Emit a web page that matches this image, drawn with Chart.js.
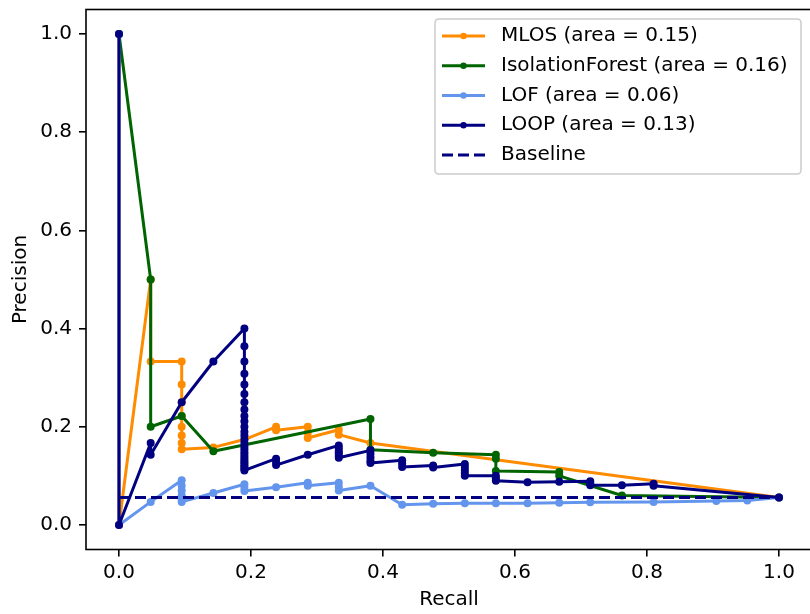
<!DOCTYPE html>
<html>
<head>
<meta charset="utf-8">
<title>Precision-Recall</title>
<script src="https://cdn.jsdelivr.net/npm/chart.js@4.4.0/dist/chart.umd.min.js"></script>
<style>
  html, body { margin: 0; padding: 0; background: #fff; overflow: hidden; }
  canvas { display: block; }
</style>
</head>
<body>
<canvas id="graficoPR" width="813" height="614"></canvas>
<script>
// Curvas precision-recall, valores
var mlosRecall = [0, 0, 0.048, 0.048, 0.095, 0.095, 0.095, 0.095, 0.095, 0.095, 0.095, 0.095,
  0.143, 0.19, 0.238, 0.238, 0.286, 0.286, 0.286, 0.333, 0.333, 0.381, 1.0];
var mlosPrecision = [1.0, 0.0, 0.5, 0.333, 0.333, 0.286, 0.25, 0.222, 0.2, 0.182, 0.167, 0.154,
  0.158, 0.174, 0.2, 0.193, 0.2, 0.188, 0.177, 0.194, 0.184, 0.167, 0.056];

var ifRecall = [0, 0.048, 0.048, 0.095, 0.143, 0.381, 0.381, 0.476, 0.571, 0.571, 0.571,
  0.667, 0.667, 0.762, 1.0];
var ifPrecision = [1.0, 0.5, 0.2, 0.222, 0.15, 0.216, 0.153, 0.147, 0.143, 0.135, 0.11,
  0.108, 0.1, 0.06, 0.056];

var lofRecall = [0, 0, 0.048, 0.095, 0.095, 0.095, 0.095, 0.095, 0.095, 0.143, 0.19, 0.19, 0.19,
  0.238, 0.286, 0.286, 0.333, 0.333, 0.333, 0.381, 0.429, 0.476, 0.524, 0.571, 0.619, 0.667,
  0.714, 0.81, 0.905, 0.952, 1.0];
var lofPrecision = [1.0, 0.0, 0.047, 0.091, 0.08, 0.07, 0.06, 0.052, 0.047, 0.065, 0.083, 0.076, 0.069,
  0.077, 0.086, 0.08, 0.086, 0.078, 0.07, 0.08, 0.041, 0.043, 0.044, 0.044, 0.044, 0.045,
  0.046, 0.047, 0.049, 0.05, 0.056];

var loopRecall = [0, 0, 0.048, 0.048, 0.095, 0.143,
  0.19, 0.19, 0.19, 0.19, 0.19, 0.19, 0.19, 0.19, 0.19, 0.19, 0.19, 0.19, 0.19, 0.19,
  0.19, 0.19, 0.19, 0.19, 0.19, 0.19, 0.19, 0.19, 0.19, 0.19, 0.19, 0.19, 0.19,
  0.238, 0.238, 0.238, 0.286, 0.333, 0.333, 0.333, 0.333, 0.333, 0.333,
  0.381, 0.381, 0.381, 0.381, 0.381, 0.429, 0.429, 0.429, 0.476, 0.476,
  0.524, 0.524, 0.524, 0.524, 0.524, 0.571, 0.571, 0.571, 0.619, 0.667,
  0.714, 0.714, 0.714, 0.762, 0.81, 0.81, 1.0];
var loopPrecision = [1.0, 0.0, 0.167, 0.143, 0.25, 0.333,
  0.4, 0.364, 0.333, 0.308, 0.286, 0.267, 0.25, 0.235, 0.222, 0.211, 0.2, 0.19, 0.182, 0.174,
  0.167, 0.16, 0.154, 0.148, 0.143, 0.138, 0.133, 0.129, 0.125, 0.121, 0.118, 0.114, 0.111,
  0.135, 0.128, 0.122, 0.143, 0.162, 0.156, 0.15, 0.146, 0.141, 0.137,
  0.152, 0.145, 0.138, 0.131, 0.126, 0.132, 0.125, 0.118, 0.121, 0.117,
  0.124, 0.118, 0.112, 0.106, 0.1, 0.1, 0.095, 0.09, 0.087, 0.088,
  0.089, 0.085, 0.081, 0.081, 0.084, 0.08, 0.056];

var baselineRecall = [0, 1];
var baselinePrecision = [0.056, 0.056];

var etiquetas = ["MLOS (area = 0.15)", "IsolationForest (area = 0.16)", "LOF (area = 0.06)",
  "LOOP (area = 0.13)", "Baseline"];
var colores = ["#ff8c00", "#006400", "#6495ed", "#000080", "#000080"];

var xTicks = [0, 0.2, 0.4, 0.6, 0.8, 1.0];
var yTicks = [0, 0.2, 0.4, 0.6, 0.8, 1.0];

var fuente = "DejaVu Sans";

function puntos(rec, prec) {
  var out = [];
  for (let i = 0; i < rec.length; i++) {
    out.push({x: rec[i], y: prec[i]});
  }
  return out;
}

function serie(i, rec, prec, orden) {
  return {
    label: etiquetas[i],
    data: puntos(rec, prec),
    showLine: true,
    borderColor: colores[i],
    backgroundColor: colores[i],
    borderWidth: 3,
    borderJoinStyle: "round",
    pointRadius: 4,
    pointBorderWidth: 0,
    pointBackgroundColor: colores[i],
    pointHoverRadius: 4,
    order: orden,
  };
}

var baselineSet = serie(4, baselineRecall, baselinePrecision, 1);
baselineSet.borderDash = [11, 5];
baselineSet.pointRadius = 0;

// sin relleno extra alrededor de los ejes
function sinPadding(s) {
  s.paddingTop = 0;
  s.paddingBottom = 0;
  s.paddingLeft = 0;
  s.paddingRight = 0;
}

// marco y leyenda estilo matplotlib
var leyendaPlugin = {
  id: "leyendaPR",
  afterDraw: function (chart) {
    var ctx = chart.ctx;
    var area = chart.chartArea;
    ctx.save();
    ctx.strokeStyle = "#000";
    ctx.lineWidth = 1.6;
    ctx.strokeRect(area.left, area.top, area.right - area.left, area.bottom - area.top);

    ctx.font = "20px '" + fuente + "'";
    var x1 = area.right - 11;
    var x0 = x1 - 366;
    var y0 = area.top + 9.5;
    var alto = 155;
    var r = 4;

    ctx.beginPath();
    ctx.moveTo(x0 + r, y0);
    ctx.lineTo(x1 - r, y0);
    ctx.quadraticCurveTo(x1, y0, x1, y0 + r);
    ctx.lineTo(x1, y0 + alto - r);
    ctx.quadraticCurveTo(x1, y0 + alto, x1 - r, y0 + alto);
    ctx.lineTo(x0 + r, y0 + alto);
    ctx.quadraticCurveTo(x0, y0 + alto, x0, y0 + alto - r);
    ctx.lineTo(x0, y0 + r);
    ctx.quadraticCurveTo(x0, y0, x0 + r, y0);
    ctx.closePath();
    ctx.fillStyle = "rgba(255,255,255,0.8)";
    ctx.fill();
    ctx.strokeStyle = "#cccccc";
    ctx.lineWidth = 1.5;
    ctx.stroke();

    for (let i = 0; i < etiquetas.length; i++) {
      var cy = y0 + 17 + i * 29.75;
      ctx.strokeStyle = colores[i];
      ctx.lineWidth = 3;
      ctx.setLineDash(i == 4 ? [11, 5] : []);
      ctx.beginPath();
      ctx.moveTo(x0 + 7, cy);
      ctx.lineTo(x0 + 50, cy);
      ctx.stroke();
      ctx.setLineDash([]);
      if (i < 4) {
        ctx.fillStyle = colores[i];
        ctx.beginPath();
        ctx.arc(x0 + 28.5, cy, 3.2, 0, Math.PI * 2);
        ctx.fill();
      }
      ctx.fillStyle = "#000";
      ctx.textAlign = "left";
      ctx.textBaseline = "middle";
      ctx.fillText(etiquetas[i], x0 + 66, cy);
    }
    ctx.restore();
  }
};

Chart.defaults.color = "#000";
Chart.defaults.font.family = fuente;
Chart.defaults.font.size = 20;

var graficoPR = new Chart(document.getElementById("graficoPR"), {
  type: "scatter",
  data: {
    datasets: [
      serie(0, mlosRecall, mlosPrecision, 5),
      serie(1, ifRecall, ifPrecision, 4),
      serie(2, lofRecall, lofPrecision, 3),
      serie(3, loopRecall, loopPrecision, 2),
      baselineSet,
    ]
  },
  options: {
    responsive: false,
    animation: false,
    events: [],
    layout: {autoPadding: false, padding: {top: 9.5, right: 1, left: 0, bottom: 0}},
    plugins: {legend: {display: false}, tooltip: {enabled: false}},
    scales: {
      x: {
        type: "linear",
        min: -0.05,
        max: 1.05,
        afterFit: function (s) { s.height = 64.5; sinPadding(s); },
        afterBuildTicks: function (s) { s.ticks = xTicks.map(v => ({value: v})); },
        ticks: {padding: 4, maxRotation: 0, callback: v => v.toFixed(1)},
        grid: {drawOnChartArea: false, drawTicks: true, tickLength: 7, color: "#000", lineWidth: 1.6},
        border: {display: false},
        title: {display: true, text: "Recall", padding: {top: 0, bottom: 2}},
      },
      y: {
        type: "linear",
        min: -0.05,
        max: 1.05,
        afterFit: function (s) { s.width = 86; sinPadding(s); },
        afterBuildTicks: function (s) { s.ticks = yTicks.map(v => ({value: v})); },
        ticks: {padding: 7, callback: v => v.toFixed(1)},
        grid: {drawOnChartArea: false, drawTicks: true, tickLength: 7, color: "#000", lineWidth: 1.6},
        border: {display: false},
        title: {display: true, text: "Precision", padding: {top: 9, bottom: 0}},
      }
    }
  },
  plugins: [leyendaPlugin]
});
</script>
</body>
</html>
